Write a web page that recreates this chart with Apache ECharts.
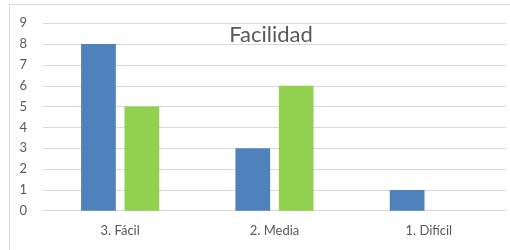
<!DOCTYPE html>
<html>
<head>
<meta charset="utf-8">
<script src="https://cdn.jsdelivr.net/npm/echarts@6/dist/echarts.min.js"></script>
<style>
html,body{margin:0;padding:0;background:#fff;}
#c{width:510px;height:250px;}
</style>
</head>
<body>
<div id="c"></div>
<script>
const titleText = "Facilidad";
const categories = ["3. Fácil", "2. Media", "1. Difícil"];
const seriesA = [8, 3, 1];
const seriesB = [5, 6, 0];
const yTicks = [0, 1, 2, 3, 4, 5, 6, 7, 8, 9];

const chart = echarts.init(document.getElementById('c'), null, {renderer: 'canvas'});
const font = 'Lato, "Open Sans", sans-serif';
chart.setOption({
  animation: false,
  backgroundColor: '#ffffff',
  title: {
    text: titleText,
    left: 266, top: 19,
    textAlign: 'center',
    textStyle: {fontFamily: font, fontSize: 22, fontWeight: 'normal', color: '#595959'}
  },
  graphic: [{
    type: 'rect',
    shape: {x: 9.5, y: 4.5, width: 600, height: 400},
    style: {fill: 'none', stroke: '#d9d9d9', lineWidth: 1},
    silent: true, z: -1
  }],
  grid: {left: 43, right: 4, top: 23.3, bottom: 39.3, containLabel: false},
  xAxis: {
    type: 'category',
    data: categories,
    axisLine: {show: true, lineStyle: {color: '#d9d9d9', width: 1}},
    axisTick: {show: false},
    axisLabel: {fontFamily: font, fontSize: 13, color: '#595959', margin: 14}
  },
  yAxis: {
    type: 'value',
    min: yTicks[0], max: yTicks[yTicks.length - 1], interval: 1,
    axisLine: {show: false},
    axisTick: {show: false},
    splitLine: {lineStyle: {color: '#d9d9d9', width: 1}},
    axisLabel: {fontFamily: font, fontSize: 13, color: '#595959', margin: 16}
  },
  series: [
    {type: 'bar', data: seriesA, barWidth: '22.5%', barGap: '25%', itemStyle: {color: '#4f81bd'}},
    {type: 'bar', data: seriesB, barWidth: '22.5%', barGap: '25%', itemStyle: {color: '#92d050'}}
  ]
});
</script>
</body>
</html>
